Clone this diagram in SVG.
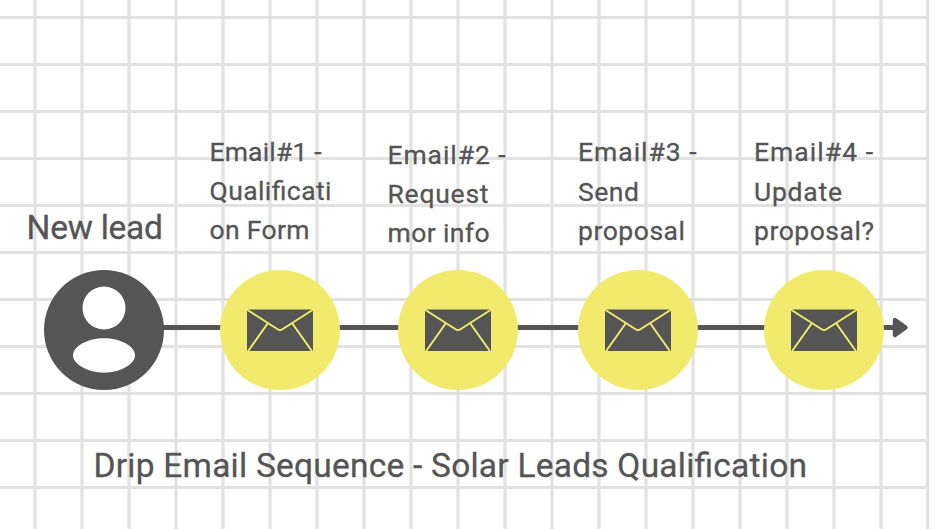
<svg xmlns="http://www.w3.org/2000/svg" xmlns:xlink="http://www.w3.org/1999/xlink" width="940" height="529" viewBox="0 0 940 529">
<style>
.g{stroke:#e2e2e2;stroke-width:3.2;fill:none}
.t{font-family:Roboto,"Liberation Sans",sans-serif;fill:#555;stroke:#555;stroke-width:.3px}
.s{font-size:26.5px}
.b{font-size:33.5px}
.y{fill:#f1ea6c}
.d{fill:#555}
.f{stroke:#f1ea6c;stroke-width:2;fill:none;stroke-linecap:round;stroke-linejoin:round}
</style>
<defs>
<g id="env">
<rect x="-33" y="-20.5" width="66" height="41.5" class="d"/>
<path d="M-32.5,-20 L-2,-0.5 Q0,0.8 2,-0.5 L32.5,-20 M-12,-7 L-31.5,20.5 M12,-7 L31.5,20.5" class="f"/>
</g>
</defs>
<rect width="940" height="529" fill="#fff"/>
<g id="grid">
<path class="g" d="M35,0V529M82,0V529M129,0V529M176,0V529M223,0V529M270,0V529M317,0V529M364,0V529M411,0V529M458,0V529M505,0V529M552,0V529M599,0V529M646,0V529M693,0V529M740,0V529M787,0V529M834,0V529M881,0V529M927.5,0V529"/>
<path class="g" d="M0,17.5H929M0,64.5H929M0,111.5H929M0,158.5H929M0,205.5H929M0,252.5H929M0,299.5H929M0,346.5H929M0,393.5H929M0,440.5H929M0,487.5H929"/>
</g>
<g id="connectors">
<line x1="104" y1="327.5" x2="896" y2="327.5" stroke="#555" stroke-width="5"/>
<path d="M895,320 L905.5,327.5 L895,335 Z" fill="#555" stroke="#555" stroke-width="4.5" stroke-linejoin="round"/>
</g>
<g id="new-lead">
<circle cx="104" cy="330" r="60" class="d"/>
<circle cx="104" cy="308" r="21.5" fill="#fff"/>
<path d="M73,355.5 C73,346 88,338.3 104,338.3 C120,338.3 135,346 135,355.5 C135,364 120,372.7 104,372.7 C88,372.7 73,364 73,355.5 Z" fill="#fff"/>
<text class="t b" x="26.5" y="239" textLength="136.5">New lead</text>
</g>
<g id="email-1">
<circle cx="280" cy="330" r="60" class="y"/>
<use xlink:href="#env" href="#env" x="280" y="330"/>
<text class="t s" x="209.5" y="161" textLength="112">Email#1 -</text>
<text class="t s" x="209.5" y="200" textLength="122">Qualificati</text>
<text class="t s" x="209.5" y="239" textLength="100">on Form</text>
</g>
<g id="email-2">
<circle cx="458" cy="330" r="60" class="y"/>
<use xlink:href="#env" href="#env" x="458" y="330"/>
<text class="t s" x="387.5" y="164" textLength="118">Email#2 -</text>
<text class="t s" x="387.5" y="203" textLength="101">Request</text>
<text class="t s" x="387.5" y="242" textLength="102">mor info</text>
</g>
<g id="email-3">
<circle cx="638" cy="330" r="60" class="y"/>
<use xlink:href="#env" href="#env" x="638" y="330"/>
<text class="t s" x="578" y="161" textLength="118.5">Email#3 -</text>
<text class="t s" x="578" y="201" textLength="61">Send</text>
<text class="t s" x="578" y="240" textLength="107">proposal</text>
</g>
<g id="email-4">
<circle cx="824" cy="330" r="60" class="y"/>
<use xlink:href="#env" href="#env" x="824" y="330"/>
<text class="t s" x="754" y="161" textLength="119">Email#4 -</text>
<text class="t s" x="754" y="201" textLength="88">Update</text>
<text class="t s" x="754" y="240" textLength="120">proposal?</text>
</g>
<text id="title" class="t b" x="93.5" y="477" textLength="713.5">Drip Email Sequence - Solar Leads Qualification</text>
</svg>
